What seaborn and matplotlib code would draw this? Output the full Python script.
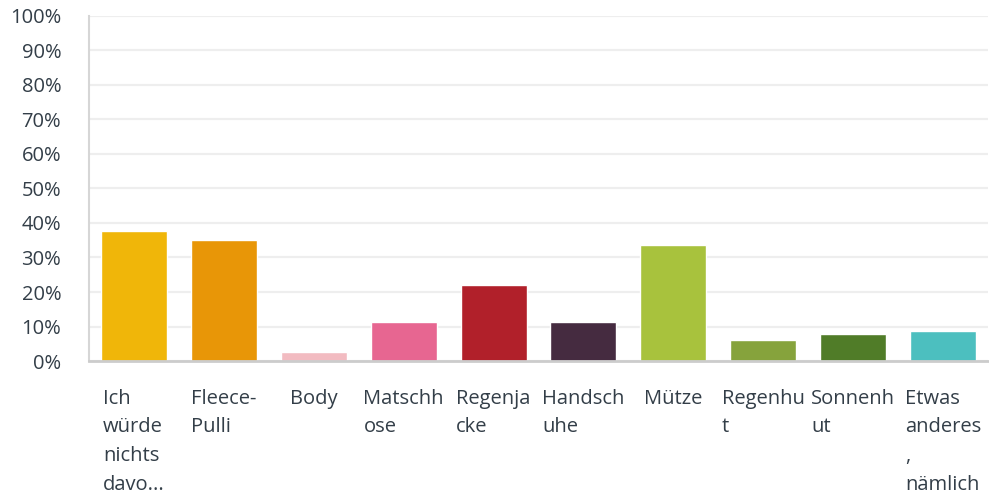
import seaborn as sns
import matplotlib.pyplot as plt
import pandas as pd

# categories (tick labels already wrapped like in the survey export)
categories = ['Ich\nwürde\nnichts\ndavo...', 'Fleece-\nPulli', 'Body', 'Matschh\nose',
              'Regenja\ncke', 'Handsch\nuhe', 'Mütze', 'Regenhu\nt', 'Sonnenh\nut',
              'Etwas\nanderes\n,\nnämlich']
values = [37.8, 35.2, 2.6, 11.3, 22.0, 11.3, 33.7, 6.1, 7.8, 8.7]
colors = ['#f0b609', '#e89607', '#f2bbc1', '#e76691', '#b1202a',
          '#452b40', '#a8c23d', '#86a33c', '#507c28', '#4cbfbf']
yticks = [0, 10, 20, 30, 40, 50, 60, 70, 80, 90, 100]
ytick_labels = [f'{t}%' for t in yticks]

df = pd.DataFrame({'cat': categories, 'pct': values})

sns.set_style('white')
plt.rcParams['font.family'] = ['Open Sans', 'DejaVu Sans']

fig = plt.figure(figsize=(9.89, 4.95), dpi=100)
ax = fig.add_axes([0.09, 0.2707, 0.909, 0.6970])

sns.barplot(data=df, x='cat', y='pct', hue='cat', palette=colors,
            legend=False, width=0.735, saturation=1, ax=ax)

ax.set_xlim(-0.5, 9.5)
ax.set_ylim(0, 100)
ax.set_yticks(yticks)
ax.set_yticklabels(ytick_labels)
ax.yaxis.grid(True, color='#eeeeee', linewidth=1.6)
ax.set_axisbelow(True)
ax.set_xlabel('')
ax.set_ylabel('')

for side in ['top', 'right']:
    ax.spines[side].set_visible(False)
ax.spines['left'].set_color('#d6d6d6')
ax.spines['left'].set_linewidth(1.5)
ax.spines['bottom'].set_color('#cccccc')
ax.spines['bottom'].set_linewidth(2)

ax.tick_params(axis='y', length=0, pad=20, labelsize=14.5, labelcolor='#333e48')
ax.tick_params(axis='x', length=0, pad=20, labelsize=14.5, labelcolor='#333e48')
for lbl in ax.get_xticklabels():
    lbl.set_ha('center')
    lbl.set_va('top')
    lbl.set_multialignment('left')
    lbl.set_linespacing(1.58)

plt.savefig('out.png', dpi=100)
